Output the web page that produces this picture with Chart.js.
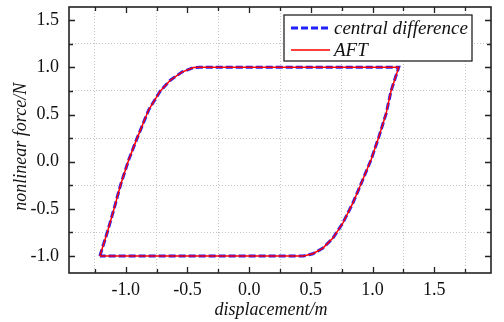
<!DOCTYPE html>
<html lang="en">
<head>
    <meta charset="UTF-8">
    <title>Hysteresis loop</title>
    <script src="https://cdn.jsdelivr.net/npm/chart.js"></script>
    <style>
        body {
            margin: 0;
            padding: 0;
            background: #ffffff;
        }
        .wrap {
            width: 504px;
            height: 322px;
        }
    </style>
</head>
<body>
<div class="wrap"><canvas id="loopChart" width="504" height="322"></canvas></div>
<script>
    // loop: rising branch, top plateau, falling branch, bottom plateau
    const loopX = [-1.21, -1.15, -1.095, -1.043, -0.976, -0.908, -0.814, -0.72, -0.639, -0.545, -0.451, -0.40,
                   1.212, 1.15, 1.11, 1.048, 0.988, 0.902, 0.84, 0.759, 0.679, 0.598, 0.517, 0.44, -1.21];
    const centralY = [-1, -0.75, -0.5, -0.25, 0.02, 0.25, 0.55, 0.75, 0.864, 0.95, 0.998, 1,
                      1, 0.75, 0.51, 0.25, 0.02, -0.25, -0.44, -0.651, -0.81, -0.916, -0.976, -1, -1];
    const aftY = [-1, -0.75, -0.5, -0.25, 0.02, 0.25, 0.55, 0.75, 0.864, 0.95, 0.998, 1,
                  1, 0.75, 0.51, 0.25, 0.02, -0.25, -0.44, -0.651, -0.81, -0.916, -0.976, -1, -1];
    const seriesNames = ['central difference', 'AFT'];
    const xTitle = 'displacement/m';
    const yTitle = 'nonlinear force/N';

    const serif = "'Liberation Serif', 'Times New Roman', serif";

    function isMajor(v) {
        return Math.abs(v * 2 - Math.round(v * 2)) < 1e-6;
    }

    // inward tick marks on all four sides + frame
    const frameTicks = {
        id: 'frameTicks',
        afterDraw(chart) {
            const ctx = chart.ctx;
            const a = chart.chartArea;
            const xs = chart.scales.x, ys = chart.scales.y;
            ctx.save();
            ctx.strokeStyle = '#222';
            ctx.lineWidth = 1.3;
            ctx.beginPath();
            xs.ticks.forEach(t => {
                const px = Math.round(xs.getPixelForValue(t.value)) + 0.5;
                const len = isMajor(t.value) ? 6 : 4;
                ctx.moveTo(px, a.bottom); ctx.lineTo(px, a.bottom - len);
                ctx.moveTo(px, a.top); ctx.lineTo(px, a.top + len);
            });
            ys.ticks.forEach(t => {
                const py = Math.round(ys.getPixelForValue(t.value)) + 0.5;
                const len = isMajor(t.value) ? 6 : 4;
                ctx.moveTo(a.left, py); ctx.lineTo(a.left + len, py);
                ctx.moveTo(a.right, py); ctx.lineTo(a.right - len, py);
            });
            ctx.stroke();
            ctx.lineWidth = 1.6;
            ctx.strokeRect(a.left, a.top, a.right - a.left, a.bottom - a.top);
            ctx.restore();
        }
    };

    // boxed legend inside the plot, top right
    const boxLegend = {
        id: 'boxLegend',
        afterDraw(chart) {
            const ctx = chart.ctx;
            const a = chart.chartArea;
            const w = 188, h = 46;
            const left = a.right - 19 - w, top = a.top + 8;
            ctx.save();
            ctx.fillStyle = '#fff';
            ctx.fillRect(left, top, w, h);
            ctx.strokeStyle = '#222';
            ctx.lineWidth = 1.3;
            ctx.strokeRect(left, top, w, h);
            ctx.font = 'italic 19px ' + serif;
            ctx.textBaseline = 'middle';
            chart.data.datasets.forEach((ds, i) => {
                const y = top + 13 + i * 22;
                ctx.strokeStyle = ds.borderColor;
                ctx.lineWidth = ds.borderWidth;
                ctx.setLineDash(ds.borderDash || []);
                ctx.beginPath();
                ctx.moveTo(left + 7, y);
                ctx.lineTo(left + 46, y);
                ctx.stroke();
                ctx.setLineDash([]);
                ctx.fillStyle = '#111';
                ctx.fillText(ds.label, left + 50, y + 1);
            });
            ctx.restore();
        }
    };

    const gridColor = c => isMajor(c.tick.value) ? 'rgba(0,0,0,0)' : '#c4c4c4';
    const tickLabel = v => isMajor(v) ? v.toFixed(1) : '';

    new Chart(document.getElementById('loopChart'), {
        type: 'scatter',
        data: {
            datasets: [{
                label: seriesNames[0],
                data: loopX.map((x, i) => ({x: x, y: centralY[i]})),
                showLine: true,
                borderColor: '#1f1fff',
                borderWidth: 3,
                borderDash: [7, 3],
                pointRadius: 0,
                order: 2
            }, {
                label: seriesNames[1],
                data: loopX.map((x, i) => ({x: x, y: aftY[i]})),
                showLine: true,
                borderColor: '#ff0000',
                borderWidth: 1.5,
                pointRadius: 0,
                order: 1
            }]
        },
        options: {
            responsive: false,
            animation: false,
            layout: {padding: {left: 0, top: 7, right: 13, bottom: 0}},
            plugins: {
                legend: {display: false},
                tooltip: {enabled: false}
            },
            scales: {
                x: {
                    type: 'linear',
                    min: -1.46,
                    max: 1.96,
                    afterFit: s => { s.height = 49; s.paddingLeft = 0; s.paddingRight = 0; },
                    ticks: {
                        stepSize: 0.25,
                        includeBounds: false,
                        autoSkip: false,
                        maxRotation: 0,
                        padding: 6,
                        color: '#111',
                        font: {family: serif, size: 18},
                        callback: tickLabel
                    },
                    grid: {color: gridColor, lineWidth: 1, drawTicks: false},
                    border: {display: false, dash: [1, 2]},
                    title: {
                        display: true,
                        text: xTitle + '    ',
                        color: '#111',
                        font: {family: serif, size: 18, style: 'italic'},
                        padding: {top: 0, bottom: 1}
                    }
                },
                y: {
                    type: 'linear',
                    min: -1.18,
                    max: 1.64,
                    afterFit: s => { s.width = 69; s.paddingTop = 0; s.paddingBottom = 0; },
                    ticks: {
                        stepSize: 0.25,
                        includeBounds: false,
                        autoSkip: false,
                        padding: 10,
                        color: '#111',
                        font: {family: serif, size: 18},
                        callback: tickLabel
                    },
                    grid: {color: gridColor, lineWidth: 1, drawTicks: false},
                    border: {display: false, dash: [1, 2]},
                    title: {
                        display: true,
                        text: yTitle + '   ',
                        color: '#111',
                        font: {family: serif, size: 18, style: 'italic'},
                        padding: {top: 10, bottom: 0}
                    }
                }
            }
        },
        plugins: [frameTicks, boxLegend]
    });
</script>
</body>
</html>
